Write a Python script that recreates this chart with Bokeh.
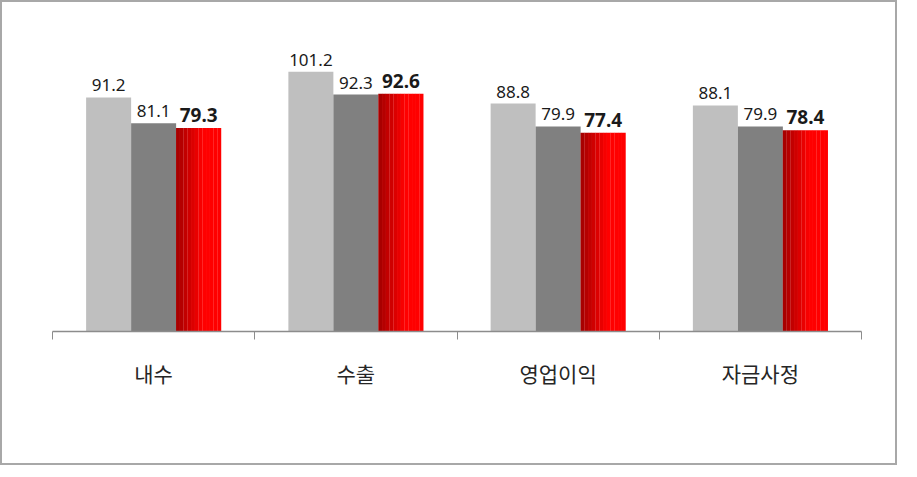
from bokeh.plotting import figure
from bokeh.models import (ColumnDataSource, FactorRange, Range1d, LinearAxis,
                          CategoricalAxis, FixedTicker, Legend, LegendItem)
from bokeh.transform import dodge
from bokeh.core.properties import value
from bokeh.embed import file_html
from bokeh.resources import INLINE

categories = ["내수", "수출", "영업이익", "자금사정"]
series_names = ["2018전망", "2019전망", "2020전망"]
v2018 = [91.2, 101.2, 88.8, 88.1]
v2019 = [81.1, 92.3, 79.9, 79.9]
v2020 = [79.3, 92.6, 77.4, 78.4]
boundaries = [0, 1, 2, 3, 4]

src = ColumnDataSource(dict(
    cat=categories, v2018=v2018, v2019=v2019, v2020=v2020,
    l2018=[f"{v:.1f}" for v in v2018],
    l2019=[f"{v:.1f}" for v in v2019],
    l2020=[f"{v:.1f}" for v in v2020],
))

p = figure(x_range=FactorRange(*categories), y_range=Range1d(0, 120),
           width=897, height=465, output_backend="svg", toolbar_location=None,
           x_axis_location=None, y_axis_location=None,
           min_border_left=50, min_border_right=38, min_border_top=21,
           min_border_bottom=136)
p.grid.visible = False
p.outline_line_color = None
p.styles = {"border": "2px solid #a8a8a8", "box-sizing": "border-box"}

BW = 0.2225
r1 = p.vbar(x=dodge('cat', -BW, range=p.x_range), top='v2018', width=BW,
            source=src, fill_color="#bfbfbf", line_color=None)
r2 = p.vbar(x=dodge('cat', 0.0, range=p.x_range), top='v2019', width=BW,
            source=src, fill_color="#808080", line_color=None)

# red bars with left-side shading
N = 12
shades = []
for i in range(N):
    t = min(1.0, i / (N * 0.55))
    rr = int(0xa8 + (0xff - 0xa8) * t)
    shades.append("#%02x0000" % rr)
red_rs = []
for i in range(N):
    off = BW - BW / 2 + (i + 0.5) * BW / N
    rr = p.vbar(x=dodge('cat', off, range=p.x_range), top='v2020', width=BW / N * 1.05,
                source=src, fill_color=shades[i], line_color=None)
    red_rs.append(rr)

lab_kw = dict(source=src, text_align="center", text_baseline="alphabetic",
              text_color="#1a1a1a")
p.text(x=dodge('cat', -BW, range=p.x_range), y='v2018', text='l2018', y_offset=-12,
       text_font=value("Noto Sans"), text_font_size="17px", **lab_kw)
p.text(x=dodge('cat', 0.0, range=p.x_range), y='v2019', text='l2019', y_offset=-12,
       text_font=value("Noto Sans"), text_font_size="17px", **lab_kw)
p.text(x=dodge('cat', BW, range=p.x_range), y='v2020', text='l2020', y_offset=-13,
       text_font=value("Noto Sans"), text_font_size="19px", text_font_style="bold", **lab_kw)

tick_axis = LinearAxis(ticker=FixedTicker(ticks=boundaries),
                       major_tick_out=8, major_tick_in=0, minor_tick_out=0, minor_tick_in=0,
                       major_label_text_font_size="0px", major_label_standoff=0,
                       axis_line_color="#8c8c8c", major_tick_line_color="#8c8c8c",
                       axis_line_width=1.5)
p.add_layout(tick_axis, "below")
cat_axis = CategoricalAxis(axis_line_color=None, major_tick_line_color=None,
                           major_tick_out=0, major_tick_in=0,
                           major_label_text_font="Noto Sans CJK KR",
                           major_label_text_font_size="21px",
                           major_label_text_color="#262626",
                           major_label_standoff=18)
p.add_layout(cat_axis, "below")

legend = Legend(items=[LegendItem(label=series_names[0], renderers=[r1]),
                       LegendItem(label=series_names[1], renderers=[r2]),
                       LegendItem(label=series_names[2], renderers=[red_rs[-1]])],
                location=(253, -116), orientation="horizontal",
                glyph_width=17, glyph_height=17, label_standoff=6, spacing=42,
                padding=0, margin=0, border_line_color=None, background_fill_alpha=0,
                label_text_font="Noto Sans CJK KR", label_text_font_size="26px",
                label_text_color="#1a1a1a")
p.add_layout(legend, "center")

open("out.html", "w").write(file_html(p, INLINE))
